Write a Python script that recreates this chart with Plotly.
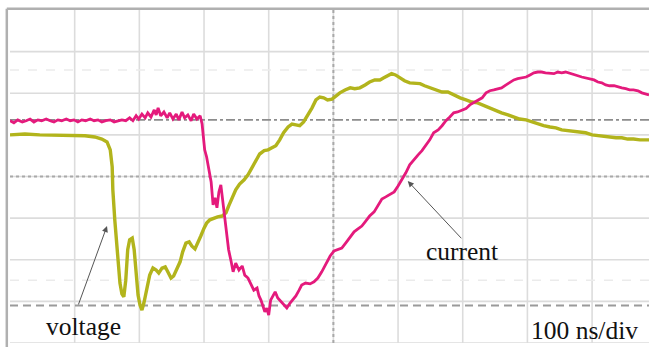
import plotly.graph_objects as go

# Time base: 100 ns per division; amplitude in screen divisions (0 = bottom of screen)
volt_t = [0, 23, 46, 70, 93, 116, 131, 142, 150, 155,
          158, 159, 162, 165, 167, 170, 173, 176, 179, 182,
          185, 189, 192, 195, 198, 201, 204, 207, 212, 216,
          221, 226, 230, 235, 240, 244, 249, 253, 258, 263,
          267, 272, 277, 281, 286, 290, 295, 300, 304, 309,
          315, 321, 328, 334, 338, 343, 349, 355, 362, 368,
          374, 380, 386, 393, 399, 405, 411, 417, 423, 430,
          436, 442, 448, 454, 461, 467, 473, 479, 485, 491,
          498, 504, 510, 518, 526, 533, 541, 549, 556, 564,
          572, 578, 584, 590, 596, 603, 610, 618, 626, 634,
          641, 649, 658, 668, 677, 686, 696, 705, 714, 723,
          733, 742, 751, 760, 770, 779, 788, 798, 807, 816,
          825, 835, 844, 853, 862, 872, 881, 890, 900, 909,
          918, 927, 937, 946, 955, 964, 974, 988]
volt_v = [5.00, 5.02, 5.00, 5.00, 4.98, 4.98, 4.95, 4.90, 4.83, 4.64,
          4.23, 3.68, 2.96, 2.36, 1.92, 1.44, 1.18, 1.11, 1.51, 2.24,
          2.48, 2.52, 2.24, 1.63, 1.15, 0.91, 0.79, 0.96, 1.35, 1.63,
          1.80, 1.75, 1.68, 1.80, 1.83, 1.71, 1.56, 1.61, 1.80, 1.95,
          2.19, 2.40, 2.43, 2.33, 2.26, 2.38, 2.57, 2.76, 2.88, 2.96,
          3.00, 3.03, 3.05, 3.13, 3.29, 3.49, 3.68, 3.82, 3.92, 4.04,
          4.21, 4.40, 4.54, 4.62, 4.64, 4.69, 4.74, 4.88, 5.05, 5.19,
          5.26, 5.24, 5.22, 5.31, 5.48, 5.65, 5.84, 5.91, 5.89, 5.84,
          5.86, 5.94, 6.01, 6.08, 6.13, 6.11, 6.13, 6.20, 6.27, 6.32,
          6.32, 6.37, 6.42, 6.47, 6.44, 6.37, 6.30, 6.25, 6.25, 6.23,
          6.18, 6.13, 6.08, 6.03, 6.03, 5.96, 5.89, 5.84, 5.79, 5.77,
          5.70, 5.65, 5.58, 5.53, 5.48, 5.43, 5.38, 5.36, 5.31, 5.26,
          5.22, 5.19, 5.17, 5.12, 5.10, 5.07, 5.05, 5.05, 5.00, 4.98,
          4.98, 4.95, 4.93, 4.93, 4.90, 4.90, 4.88, 4.88]

cur_t = [0, 6, 12, 19, 25, 31, 37, 43, 49, 56,
         62, 68, 74, 80, 87, 93, 99, 105, 111, 117,
         124, 130, 136, 142, 148, 155, 161, 167, 173, 179,
         185, 190, 195, 199, 204, 209, 213, 218, 223, 226,
         229, 233, 238, 243, 247, 252, 257, 261, 266, 270,
         275, 280, 284, 289, 294, 297, 298, 301, 304, 308,
         311, 314, 317, 320, 323, 326, 329, 332, 335, 338,
         342, 345, 349, 354, 359, 363, 368, 372, 377, 382,
         385, 388, 391, 394, 397, 400, 403, 406, 410, 414,
         419, 423, 428, 433, 437, 442, 447, 451, 457, 464,
         470, 476, 482, 488, 495, 501, 507, 513, 519, 526,
         532, 538, 544, 550, 556, 563, 569, 575, 581, 587,
         594, 600, 606, 612, 618, 624, 631, 637, 643, 649,
         655, 662, 668, 674, 680, 686, 692, 699, 705, 711,
         717, 723, 730, 736, 742, 748, 754, 760, 767, 773,
         779, 785, 791, 798, 804, 810, 816, 822, 828, 835,
         841, 847, 853, 859, 866, 872, 878, 884, 890, 896,
         903, 909, 915, 921, 927, 934, 940, 946, 952, 958,
         964, 971, 977, 983, 988]
cur_v = [5.34, 5.29, 5.36, 5.31, 5.34, 5.38, 5.31, 5.36, 5.34, 5.38,
         5.34, 5.31, 5.36, 5.34, 5.38, 5.34, 5.36, 5.31, 5.36, 5.34,
         5.38, 5.34, 5.36, 5.31, 5.34, 5.36, 5.31, 5.34, 5.36, 5.34,
         5.41, 5.34, 5.46, 5.38, 5.50, 5.41, 5.53, 5.43, 5.60, 5.48,
         5.65, 5.46, 5.55, 5.41, 5.53, 5.38, 5.50, 5.36, 5.55, 5.41,
         5.48, 5.34, 5.50, 5.38, 5.46, 5.26, 5.05, 4.64, 4.47, 4.16,
         3.87, 3.32, 3.49, 3.25, 3.63, 3.80, 3.44, 3.08, 2.64, 2.24,
         1.95, 1.71, 1.92, 1.75, 1.85, 1.63, 1.56, 1.44, 1.27, 1.32,
         1.13, 1.03, 0.91, 0.75, 0.84, 0.67, 1.03, 1.13, 1.23, 1.08,
         0.99, 0.94, 0.84, 0.96, 1.03, 1.13, 1.27, 1.39, 1.44, 1.42,
         1.47, 1.56, 1.71, 1.90, 2.09, 2.21, 2.24, 2.28, 2.40, 2.55,
         2.67, 2.74, 2.81, 2.93, 3.05, 3.15, 3.32, 3.46, 3.51, 3.56,
         3.63, 3.77, 3.92, 4.09, 4.28, 4.40, 4.52, 4.62, 4.74, 4.88,
         5.05, 5.12, 5.22, 5.34, 5.43, 5.53, 5.55, 5.60, 5.63, 5.72,
         5.77, 5.82, 5.89, 6.01, 6.06, 6.08, 6.11, 6.13, 6.20, 6.27,
         6.32, 6.35, 6.37, 6.39, 6.44, 6.49, 6.51, 6.51, 6.49, 6.47,
         6.47, 6.51, 6.49, 6.51, 6.47, 6.44, 6.42, 6.39, 6.37, 6.35,
         6.32, 6.27, 6.25, 6.20, 6.18, 6.18, 6.15, 6.13, 6.11, 6.08,
         6.08, 6.06, 6.01, 5.99, 5.96]

assert len(volt_t) == len(volt_v)
assert len(cur_t) == len(cur_v)

T_MAX = 988          # visible time span, ns
DIV_PER_SCREEN = 8   # vertical divisions
GRID_X = [100, 200, 300, 400, 500, 600, 700, 800, 900]
GRID_Y = [0, 1, 2, 3, 4, 5, 6, 7]
CENTER_T = 500
CENTER_Y = 4
GROUND_LEVEL = 0.9
CURSOR_LEVEL = 5.36
FAINT_LEVELS = [6.56, 1.51]

VOLT_COLOR = "#b2b41c"
CUR_COLOR = "#e41a7c"
GRID_COLOR = "#dcdcdc"

fig = go.Figure()
fig.add_trace(go.Scatter(x=volt_t, y=volt_v, mode="lines", name="voltage",
                         line=dict(color=VOLT_COLOR, width=3.4), hoverinfo="skip"))
fig.add_trace(go.Scatter(x=cur_t, y=cur_v, mode="lines", name="current",
                         line=dict(color=CUR_COLOR, width=2.8), hoverinfo="skip"))

shapes = []
# graticule
for gx in GRID_X:
    shapes.append(dict(type="line", xref="x", yref="paper", x0=gx, x1=gx, y0=0, y1=1,
                       line=dict(color=GRID_COLOR, width=1.6), layer="below"))
for gy in GRID_Y:
    shapes.append(dict(type="line", xref="paper", yref="y", x0=0, x1=1, y0=gy, y1=gy,
                       line=dict(color=GRID_COLOR, width=1.6), layer="below"))
# faint reference markers
for fy in FAINT_LEVELS:
    shapes.append(dict(type="line", xref="paper", yref="y", x0=0, x1=1, y0=fy, y1=fy,
                       line=dict(color="#ebebeb", width=1.5, dash="dash"), layer="below"))
# centre axes with minor ticks
shapes.append(dict(type="line", xref="x", yref="paper", x0=CENTER_T, x1=CENTER_T, y0=0, y1=1,
                   line=dict(color="#a9a9a9", width=2, dash="dot"), layer="below"))
shapes.append(dict(type="line", xref="paper", yref="y", x0=0, x1=1, y0=CENTER_Y, y1=CENTER_Y,
                   line=dict(color="#a9a9a9", width=2, dash="dot"), layer="below"))
# ground marker and trigger cursor
shapes.append(dict(type="line", xref="paper", yref="y", x0=0, x1=1, y0=GROUND_LEVEL, y1=GROUND_LEVEL,
                   line=dict(color="#9a9a9a", width=2, dash="8px,5px"), layer="below"))
shapes.append(dict(type="line", xref="paper", yref="y", x0=0, x1=1, y0=CURSOR_LEVEL, y1=CURSOR_LEVEL,
                   line=dict(color="#8c8c8c", width=1.6, dash="dashdot"), layer="below"))
# screen frame
shapes.append(dict(type="line", xref="paper", yref="paper", x0=-0.005, x1=-0.005, y0=-0.02, y1=1.004,
                   line=dict(color="#b0b0b0", width=2.5)))
shapes.append(dict(type="line", xref="paper", yref="paper", x0=-0.005, x1=1.0, y0=1.004, y1=1.004,
                   line=dict(color="#b0b0b0", width=2.5)))

label_font = dict(family="Liberation Serif, Times New Roman, serif", size=25.5, color="#111111")
annotations = [
    dict(x=114, y=0.40, xref="x", yref="y", text="voltage", showarrow=False, font=label_font),
    dict(x=699, y=2.19, xref="x", yref="y", text="current", showarrow=False, font=label_font),
    dict(x=889, y=0.30, xref="x", yref="y", text="100 ns/div", showarrow=False, font=label_font),
    dict(x=150, y=2.81, ax=105, ay=0.89, xref="x", yref="y", axref="x", ayref="y",
         text="", showarrow=True, arrowhead=2, arrowsize=1.2, arrowwidth=1, arrowcolor="#555555"),
    dict(x=615, y=3.89, ax=700, ay=2.48, xref="x", yref="y", axref="x", ayref="y",
         text="", showarrow=True, arrowhead=2, arrowsize=1.2, arrowwidth=1, arrowcolor="#555555"),
]

fig.update_layout(
    width=649, height=347,
    margin=dict(l=10, r=0, t=10, b=4),
    paper_bgcolor="white", plot_bgcolor="white",
    showlegend=False,
    shapes=shapes, annotations=annotations,
    xaxis=dict(range=[0, T_MAX], showgrid=False, zeroline=False, showticklabels=False,
               ticks="", fixedrange=True),
    yaxis=dict(range=[0, DIV_PER_SCREEN], showgrid=False, zeroline=False, showticklabels=False,
               ticks="", fixedrange=True),
)

fig.write_html("out.html")
